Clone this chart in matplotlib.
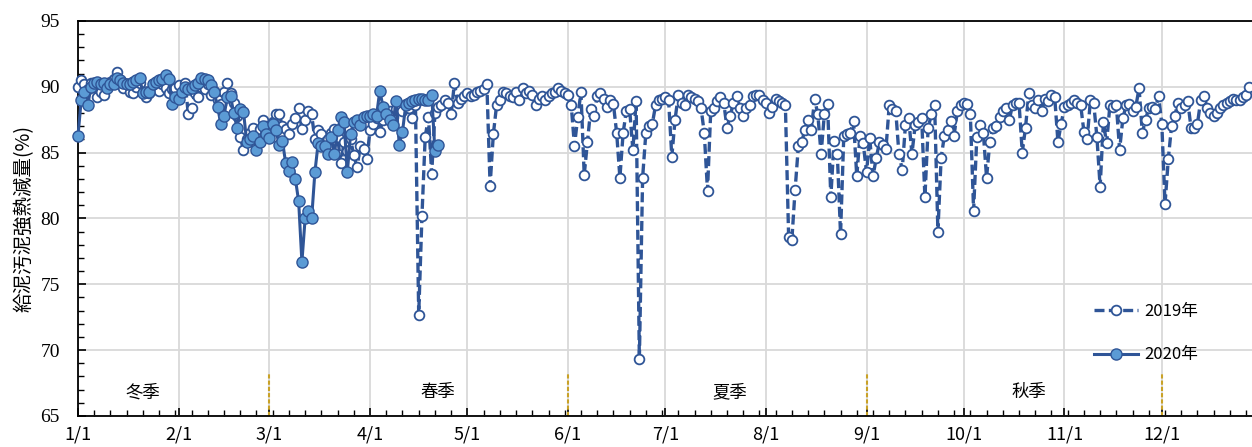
import numpy as np
import matplotlib
matplotlib.use("Agg")
import matplotlib.pyplot as plt
from matplotlib.ticker import MultipleLocator

plt.rcParams['font.family'] = ['Noto Sans CJK JP', 'DejaVu Sans']

# daily values, day 0 = 1/1
sludge_2019 = [
    # Jan
    90.0, 90.5, 90.2, 89.8, 90.3, 90.0, 89.2, 89.6, 89.4, 90.1, 90.4, 90.6, 91.1, 90.5, 89.9, 90.2,
    89.6, 89.5, 90.0, 90.3, 89.6, 89.2, 89.5, 90.0, 89.8, 89.7, 90.2, 89.9, 89.5, 89.8, 89.9,
    # Feb
    90.1, 89.6, 90.3, 87.9, 88.4, 89.5, 89.2, 90.0, 89.8, 90.2, 89.4, 89.7, 89.0, 88.7, 89.6, 90.3,
    89.5, 88.8, 87.8, 86.2, 85.2, 86.0, 86.5, 86.9, 86.2, 86.8, 87.5, 87.0,
    # Mar
    86.7, 87.3, 87.9, 87.9, 87.0, 86.8, 86.4, 87.2, 87.6, 88.4, 86.8, 87.5, 88.2, 87.9, 86.0, 86.7,
    86.4, 85.8, 86.0, 86.5, 86.8, 86.2, 84.2, 85.8, 85.1, 86.0, 84.8, 83.9, 85.5, 85.3, 84.5,
    # Apr
    86.7, 87.2, 87.6, 86.6, 87.5, 88.0, 88.2, 87.7, 88.3, 88.5, 88.2, 88.7, 88.4, 87.6, 88.6, 72.7,
    80.2, 86.2, 87.7, 83.4, 88.0, 88.5, 88.6, 89.0, 88.8, 87.9, 90.3, 88.8, 89.1, 89.3,
    # May
    89.5, 89.3, 89.4, 89.6, 89.7, 89.8, 90.2, 82.5, 86.4, 88.6, 89.0, 89.6, 89.5, 89.3, 89.2, 89.6,
    89.0, 89.9, 89.5, 89.7, 89.4, 88.6, 89.1, 89.3, 89.0, 89.3, 89.5, 89.6, 89.9, 89.7, 89.5,
    # Jun
    89.4, 88.6, 85.5, 87.7, 89.6, 83.3, 85.8, 88.3, 87.8, 89.3, 89.5, 89.1, 88.5, 89.0, 88.7, 86.5,
    83.1, 86.5, 88.2, 88.3, 85.2, 88.9, 69.3, 83.1, 86.5, 87.0, 87.2, 88.6, 89.0, 89.1,
    # Jul
    89.2, 89.0, 84.7, 87.5, 89.4, 88.8, 88.6, 89.4, 89.2, 89.1, 88.9, 88.4, 86.5, 82.1, 88.2, 88.4,
    88.9, 89.2, 88.8, 86.9, 87.8, 88.8, 89.3, 88.4, 87.8, 88.4, 88.6, 89.3, 89.4, 89.4, 89.0,
    # Aug
    88.8, 88.0, 88.5, 89.1, 88.9, 88.8, 88.6, 78.6, 78.4, 82.2, 85.5, 85.8, 86.7, 87.5, 86.7, 89.1,
    87.9, 84.9, 87.9, 88.7, 81.6, 85.9, 84.9, 78.8, 86.3, 86.4, 86.5, 87.4, 83.2, 86.3, 85.7,
    # Sep
    83.5, 86.1, 83.2, 84.6, 85.8, 85.6, 85.3, 88.6, 88.3, 88.2, 84.9, 83.7, 87.1, 87.6, 84.9, 87.1,
    87.3, 87.6, 81.6, 86.9, 87.9, 88.6, 79.0, 84.6, 86.3, 86.7, 87.4, 86.3, 88.2, 88.6,
    # Oct
    88.8, 88.7, 87.9, 80.6, 86.2, 87.1, 86.5, 83.1, 85.8, 86.9, 87.0, 87.7, 88.2, 88.4, 87.5, 88.6,
    88.8, 88.8, 85.0, 86.9, 89.5, 88.6, 88.4, 89.0, 88.2, 89.1, 88.9, 89.4, 89.2, 85.8, 87.2,
    # Nov
    88.5, 88.6, 88.8, 89.0, 88.8, 88.6, 86.6, 86.0, 89.0, 88.8, 86.2, 82.4, 87.3, 85.7, 88.6, 88.5,
    88.6, 85.2, 87.6, 88.6, 88.7, 88.2, 88.5, 89.9, 86.5, 87.5, 88.4, 88.5, 88.3, 89.3,
    # Dec
    87.2, 81.1, 84.5, 87.0, 87.8, 88.8, 88.4, 88.6, 88.9, 86.9, 86.9, 87.2, 89.0, 89.3, 88.4, 88.0,
    87.8, 88.0, 88.4, 88.6, 88.8, 88.9, 89.1, 89.0, 89.0, 89.2, 89.4, 90.0,
]

sludge_2020 = [
    # Jan
    86.3, 89.0, 89.6, 88.6, 90.0, 90.3, 90.4, 90.2, 90.3, 89.9, 90.2, 90.2, 90.7, 90.5, 90.3, 90.2,
    90.2, 90.4, 90.5, 90.7, 89.5, 89.6, 89.6, 90.2, 90.4, 90.5, 90.6, 90.9, 90.6, 88.7, 89.2,
    # Feb
    89.1, 89.6, 90.0, 89.8, 89.9, 90.1, 90.3, 90.7, 90.6, 90.5, 90.1, 89.6, 88.5, 87.2, 87.8, 89.2,
    89.3, 88.0, 86.9, 88.3, 88.1, 85.8, 86.0, 86.3, 85.2, 85.8, 87.0, 86.4,
    # Mar
    86.1, 87.2, 86.7, 85.6, 85.9, 84.2, 83.6, 84.3, 83.0, 81.3, 76.7, 80.0, 80.6, 80.0, 83.5, 85.7,
    85.5, 85.5, 84.9, 86.2, 84.9, 86.7, 87.7, 87.3, 83.5, 86.4, 87.3, 87.5, 87.1, 87.7, 87.8,
    # Apr
    87.8, 87.9, 87.8, 89.7, 88.5, 87.9, 87.5, 87.1, 88.9, 85.6, 86.6, 88.6, 88.8, 88.9, 89.0, 89.1,
    89.1, 89.0, 89.0, 89.4, 85.1, 85.6,
]

month_starts = [0, 31, 59, 90, 120, 151, 181, 212, 243, 273, 304, 334]
month_labels = ['1/1', '2/1', '3/1', '4/1', '5/1', '6/1', '7/1', '8/1', '9/1', '10/1', '11/1', '12/1']

season_names = ['冬季', '春季', '夏季', '秋季']
season_x = [20, 111, 201, 293]
season_borders = [59, 151, 243, 334]

days_2019 = np.arange(len(sludge_2019))
days_2020 = np.arange(len(sludge_2020))

fig = plt.figure(figsize=(12.52, 4.47), dpi=100)
ax = fig.add_axes([0.0623, 0.0694, 0.9377, 0.8837])

dark = '#2F5597'
light = '#5B9BD5'

ax.plot(days_2019, sludge_2019, color=dark, lw=2.4, ls=(0, (3, 1.3)),
        marker='o', ms=7, mfc='white', mec=dark, mew=1.3, label='2019年', clip_on=False, zorder=3)
ax.plot(days_2020, sludge_2020, color=dark, lw=2.2, ls='-',
        marker='o', ms=8, mfc=light, mec=dark, mew=1.0, label='2020年', clip_on=False, zorder=4)

# season borders
for b in season_borders:
    ax.plot([b, b], [65, 68.2], color='#C9A227', lw=1.5, ls=(0, (2, 1)), zorder=2)
for name, sx in zip(season_names, season_x):
    ax.text(sx, 66.8, name, ha='center', va='center', fontsize=12.5)

ax.set_xlim(0, 361.8)
ax.set_ylim(65, 95)
ax.set_xticks(month_starts)
ax.set_xticklabels(month_labels)
ax.xaxis.set_minor_locator(MultipleLocator(5))
ax.yaxis.set_major_locator(MultipleLocator(5))
ax.yaxis.set_minor_locator(MultipleLocator(1))
ax.tick_params(axis='both', which='major', direction='in', length=6, width=1.2)
ax.tick_params(axis='both', which='minor', direction='in', length=4, width=1.0)
ax.tick_params(axis='x', pad=7, labelsize=13)
ax.tick_params(axis='y', pad=13)
for lab in ax.get_yticklabels():
    lab.set_family('Liberation Serif')
    lab.set_fontsize(14)

ax.grid(True, which='major', color='#D9D9D9', lw=1.3)
ax.set_axisbelow(True)
ax.spines['right'].set_visible(False)
for s in ['left', 'bottom', 'top']:
    ax.spines[s].set_linewidth(1.3)

ax.set_ylabel('給泥汚泥強熱減量(%)', fontsize=14, labelpad=4)

ax.legend(loc='center', bbox_to_anchor=(0.91, 0.21), frameon=False, fontsize=12,
          labelspacing=1.6, handlelength=2.6, handletextpad=0.4)

fig.savefig('out.png', dpi=100)
